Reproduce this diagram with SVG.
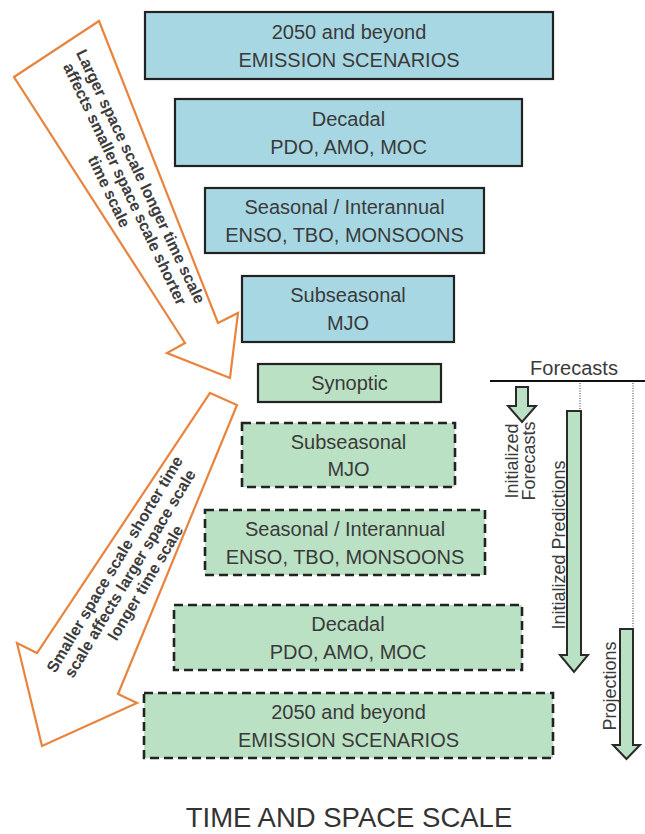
<svg xmlns="http://www.w3.org/2000/svg" width="645" height="834" viewBox="0 0 645 834">
<style>
.box{stroke:#222;stroke-width:2.2}
.blue{fill:#a8d7e4}
.green{fill:#bae1c4}
.dash{stroke-dasharray:9 5;stroke-width:2.6}
.t{font-family:"Liberation Sans",Arial,sans-serif;font-size:20px;fill:#3a3a3a;text-anchor:middle}
.at{font-family:"Liberation Sans",Arial,sans-serif;font-size:16px;font-weight:bold;fill:#3c3c3c;text-anchor:middle}
.rt{font-family:"Liberation Sans",Arial,sans-serif;font-size:18px;fill:#3a3a3a;text-anchor:middle}
.orange{fill:#fff;stroke:#e8843e;stroke-width:2.2;stroke-linejoin:miter}
.garrow{fill:#bae1c4;stroke:#2a2a2a;stroke-width:2}
.dot{stroke:#777;stroke-width:1.5;stroke-dasharray:1 1.5;fill:none}
</style>
<rect width="645" height="834" fill="#fff"/>

<g id="big-arrows">
<g id="arrow-down-right">
<polygon class="orange" points="14,77 99,21 218,323 238,313 230,378 167,353 185,343"/>
<g transform="translate(125,184) rotate(64.5)">
<text class="at" x="0" y="-12">Larger space scale longer time scale</text>
<text class="at" x="0" y="5.5">affects smaller space scale shorter</text>
<text class="at" x="0" y="23">time scale</text>
</g>
</g>
<g id="arrow-down-left">
<polygon class="orange" points="210,393 237,405 118,694 137,703 42,746 17,643 37,653"/>
<g transform="translate(130,573.5) rotate(-59)">
<text class="at" x="0" y="-12.5">Smaller space scale shorter time</text>
<text class="at" x="0" y="5.5">scale affects larger space scale</text>
<text class="at" x="0" y="23.5">longer time scale</text>
</g>
</g>
</g>

<g id="node-b1"><rect class="box blue" x="145" y="12" width="408" height="67"/>
<text class="t" x="349" y="39">2050 and beyond</text><text class="t" x="349" y="67">EMISSION SCENARIOS</text></g>
<g id="node-b2"><rect class="box blue" x="175" y="99" width="347" height="67"/>
<text class="t" x="348.5" y="126">Decadal</text><text class="t" x="348.5" y="154">PDO, AMO, MOC</text></g>
<g id="node-b3"><rect class="box blue" x="205" y="188" width="279" height="65"/>
<text class="t" x="344.5" y="214">Seasonal / Interannual</text><text class="t" x="344.5" y="242">ENSO, TBO, MONSOONS</text></g>
<g id="node-b4"><rect class="box blue" x="242" y="276" width="212" height="66"/>
<text class="t" x="348" y="302">Subseasonal</text><text class="t" x="348" y="330">MJO</text></g>
<g id="node-synoptic"><rect class="box green" x="258" y="364" width="183" height="38"/>
<text class="t" x="349.5" y="390">Synoptic</text></g>
<g id="node-g1"><rect class="box green dash" x="242" y="423" width="213" height="64"/>
<text class="t" x="348.5" y="449">Subseasonal</text><text class="t" x="348.5" y="476">MJO</text></g>
<g id="node-g2"><rect class="box green dash" x="205" y="510" width="280" height="65"/>
<text class="t" x="345" y="536">Seasonal / Interannual</text><text class="t" x="345" y="564">ENSO, TBO, MONSOONS</text></g>
<g id="node-g3"><rect class="box green dash" x="174" y="605" width="348" height="65"/>
<text class="t" x="348" y="631">Decadal</text><text class="t" x="348" y="659">PDO, AMO, MOC</text></g>
<g id="node-g4"><rect class="box green dash" x="144" y="693" width="409" height="65"/>
<text class="t" x="348.5" y="719">2050 and beyond</text><text class="t" x="348.5" y="747">EMISSION SCENARIOS</text></g>

<g id="forecasts">
<text class="rt" x="574" y="375" style="font-size:20px">Forecasts</text>
<line x1="490" y1="381" x2="645" y2="381" stroke="#111" stroke-width="2"/>
</g>

<g id="connectors">
<line class="dot" x1="580" y1="383" x2="580" y2="411"/>
<line class="dot" x1="633" y1="383" x2="633" y2="629"/>
<polygon class="garrow" points="516,387 528,387 528,406 536,406 522,422 508,406 516,406"/>
<polygon class="garrow" points="567,411 581,411 581,655 588,655 574,672 560,655 567,655"/>
<polygon class="garrow" points="620,629 633,629 633,745 640,745 626.5,759 613,745 620,745"/>
</g>

<g id="labels-right">
<text class="rt" transform="translate(518,461) rotate(-90)">Initialized</text>
<text class="rt" transform="translate(535,461) rotate(-90)">Forecasts</text>
<text class="rt" transform="translate(565,545) rotate(-90)">Initialized Predictions</text>
<text class="rt" transform="translate(616,686) rotate(-90)">Projections</text>
</g>

<text x="349" y="827" style="font-family:'Liberation Sans',Arial,sans-serif;font-size:27.5px;fill:#333;text-anchor:middle">TIME AND SPACE SCALE</text>
</svg>
